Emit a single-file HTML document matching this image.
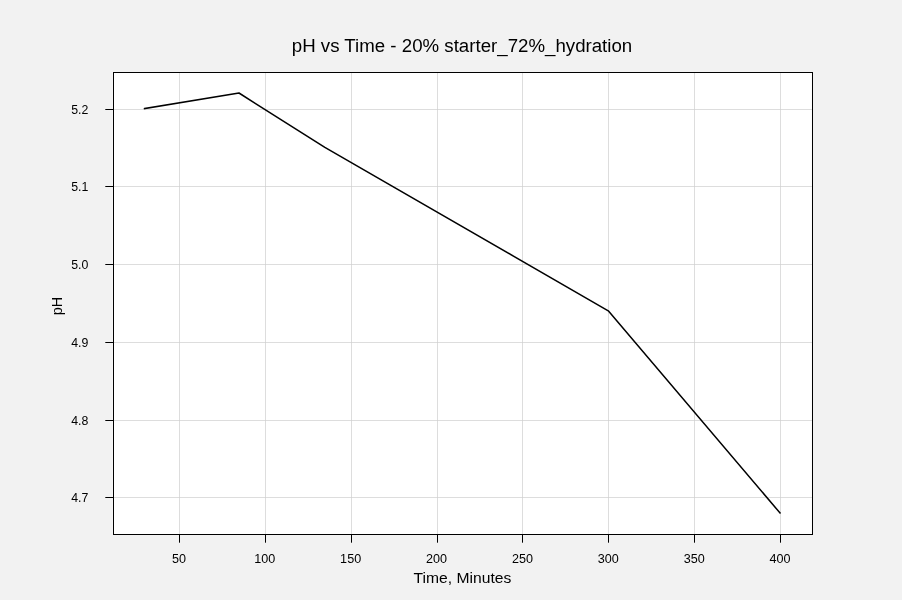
<!DOCTYPE html>
<html><head><meta charset="utf-8"><style>
html,body{margin:0;padding:0;background:#f2f2f2;overflow:hidden;}
svg{display:block;will-change:transform;}
text{font-family:"Liberation Sans",sans-serif;fill:#000;}
</style></head><body>
<svg width="902" height="600" viewBox="0 0 902 600">
<rect x="0" y="0" width="902" height="600" fill="#f2f2f2"/>
<rect x="112.75" y="72" width="699.05" height="462" fill="#ffffff"/>
<g stroke="#cecece" stroke-opacity="0.7" stroke-width="1" shape-rendering="crispEdges">
<line x1="179.5" y1="73" x2="179.5" y2="534"/>
<line x1="265.5" y1="73" x2="265.5" y2="534"/>
<line x1="351.5" y1="73" x2="351.5" y2="534"/>
<line x1="437.5" y1="73" x2="437.5" y2="534"/>
<line x1="522.5" y1="73" x2="522.5" y2="534"/>
<line x1="608.5" y1="73" x2="608.5" y2="534"/>
<line x1="694.5" y1="73" x2="694.5" y2="534"/>
<line x1="780.5" y1="73" x2="780.5" y2="534"/>
<line x1="114" y1="109.5" x2="812" y2="109.5"/>
<line x1="114" y1="186.5" x2="812" y2="186.5"/>
<line x1="114" y1="264.5" x2="812" y2="264.5"/>
<line x1="114" y1="342.5" x2="812" y2="342.5"/>
<line x1="114" y1="420.5" x2="812" y2="420.5"/>
<line x1="114" y1="497.5" x2="812" y2="497.5"/>
</g>
<polyline points="144.53,108.56 238.99,93.00 324.87,147.44 608.27,310.78 780.02,513.00" fill="none" stroke="#000" stroke-width="1.5" stroke-linejoin="round" stroke-linecap="square"/>
<g stroke="#000" stroke-width="1" shape-rendering="crispEdges">
<line x1="113.5" y1="72" x2="113.5" y2="535"/><line x1="812.5" y1="72" x2="812.5" y2="535"/><line x1="113" y1="72.5" x2="813" y2="72.5"/><line x1="113" y1="534.5" x2="813" y2="534.5"/>
</g>
<g stroke="#000" stroke-width="1">
<line x1="105.3" y1="109.5" x2="113" y2="109.5"/>
<line x1="105.3" y1="186.5" x2="113" y2="186.5"/>
<line x1="105.3" y1="264.5" x2="113" y2="264.5"/>
<line x1="105.3" y1="342.5" x2="113" y2="342.5"/>
<line x1="105.3" y1="420.5" x2="113" y2="420.5"/>
<line x1="105.3" y1="497.5" x2="113" y2="497.5"/>
<line x1="179.5" y1="535" x2="179.5" y2="542.7"/>
<line x1="265.5" y1="535" x2="265.5" y2="542.7"/>
<line x1="351.5" y1="535" x2="351.5" y2="542.7"/>
<line x1="437.5" y1="535" x2="437.5" y2="542.7"/>
<line x1="522.5" y1="535" x2="522.5" y2="542.7"/>
<line x1="608.5" y1="535" x2="608.5" y2="542.7"/>
<line x1="694.5" y1="535" x2="694.5" y2="542.7"/>
<line x1="780.5" y1="535" x2="780.5" y2="542.7"/>
</g>
<text transform="translate(462,51.6) scale(0.973,1)" font-size="19.2" text-anchor="middle">pH vs Time - 20% starter_72%_hydration</text>
<text transform="translate(88.3,114) scale(0.95,1)" font-size="13" text-anchor="end">5.2</text>
<text transform="translate(88.3,191) scale(0.95,1)" font-size="13" text-anchor="end">5.1</text>
<text transform="translate(88.3,269) scale(0.95,1)" font-size="13" text-anchor="end">5.0</text>
<text transform="translate(88.3,347) scale(0.95,1)" font-size="13" text-anchor="end">4.9</text>
<text transform="translate(88.3,425) scale(0.95,1)" font-size="13" text-anchor="end">4.8</text>
<text transform="translate(88.3,502) scale(0.95,1)" font-size="13" text-anchor="end">4.7</text>
<text transform="translate(178.88,563) scale(0.97,1)" font-size="13" text-anchor="middle">50</text>
<text transform="translate(264.75,563) scale(0.97,1)" font-size="13" text-anchor="middle">100</text>
<text transform="translate(350.63,563) scale(0.97,1)" font-size="13" text-anchor="middle">150</text>
<text transform="translate(436.51,563) scale(0.97,1)" font-size="13" text-anchor="middle">200</text>
<text transform="translate(522.39,563) scale(0.97,1)" font-size="13" text-anchor="middle">250</text>
<text transform="translate(608.27,563) scale(0.97,1)" font-size="13" text-anchor="middle">300</text>
<text transform="translate(694.15,563) scale(0.97,1)" font-size="13" text-anchor="middle">350</text>
<text transform="translate(780.02,563) scale(0.97,1)" font-size="13" text-anchor="middle">400</text>
<text transform="translate(462.4,582.9) scale(1.088,1)" font-size="14.4" text-anchor="middle">Time, Minutes</text>
<text transform="translate(61.8,306) rotate(-90)" font-size="14.4" text-anchor="middle">pH</text>
</svg></body></html>
